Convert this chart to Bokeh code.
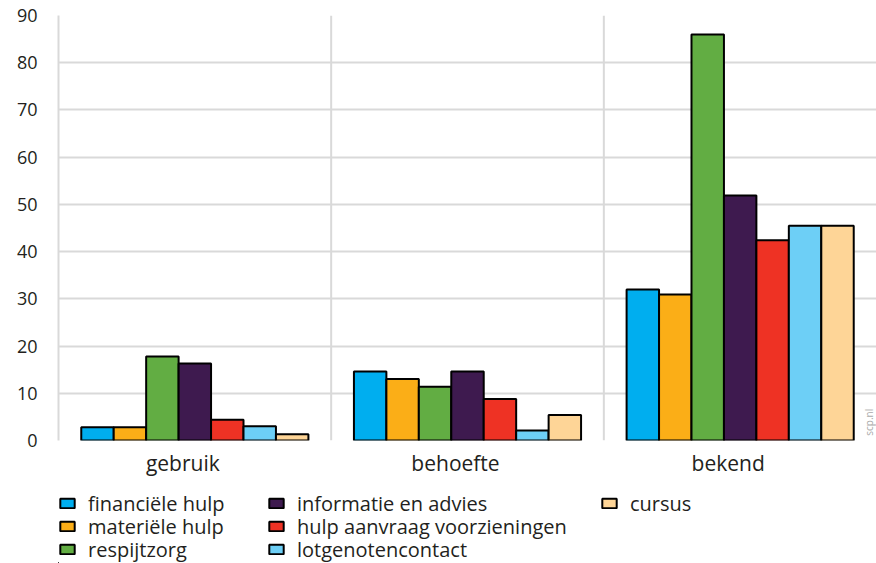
import math
from bokeh.plotting import figure
from bokeh.layouts import column
from bokeh.models import (ColumnDataSource, Range1d, FixedTicker, Span,
                          Legend, LegendItem, Label, LinearAxis)
from bokeh.transform import dodge
from bokeh.embed import file_html
from bokeh.resources import INLINE

categories = ["gebruik", "behoefte", "bekend"]
series_names = ["financiële hulp", "materiële hulp", "respijtzorg", "informatie en advies",
                "hulp aanvraag voorzieningen", "lotgenotencontact", "cursus"]
financiele_hulp = [2.8, 14.6, 32.0]
materiele_hulp = [2.8, 13.0, 30.9]
respijtzorg = [17.8, 11.4, 86.0]
informatie_advies = [16.3, 14.6, 51.9]
hulp_aanvraag = [4.4, 8.8, 42.4]
lotgenotencontact = [3.0, 2.1, 45.5]
cursus = [1.3, 5.4, 45.5]
colors = ["#00AEEF", "#FBAE17", "#62AD43", "#3E1A4F", "#EE3224", "#6DCFF6", "#FED597"]
y_ticks = [0, 10, 20, 30, 40, 50, 60, 70, 80, 90]

series_values = [financiele_hulp, materiele_hulp, respijtzorg, informatie_advies,
                 hulp_aanvraag, lotgenotencontact, cursus]
keys = ["s%d" % i for i in range(len(series_names))]
ncat = len(categories)
cat_pos = [i + 0.5 for i in range(ncat)]   # category centres on the numeric x scale
data = {"cat": categories, "pos": cat_pos}
for k, v in zip(keys, series_values):
    data[k] = v
src = ColumnDataSource(data)

FONT = "Open Sans"
TXT = "#231F20"
GRID = "#D9D9D9"

p = figure(x_range=Range1d(0, ncat), y_range=Range1d(0, 90),
           width=876, height=483, output_backend="svg", toolbar_location=None,
           min_border_left=58, min_border_right=0, min_border_top=15, min_border_bottom=43)
p.outline_line_color = None

bw = 0.119
for i, k in enumerate(keys):
    p.vbar(x=dodge("pos", (i - 3) * bw), top=k, width=bw, source=src,
           fill_color=colors[i], line_color="black", line_width=2)

# grid
p.xgrid.grid_line_color = None
p.ygrid.ticker = FixedTicker(ticks=y_ticks[:-1])
p.ygrid.grid_line_color = GRID
p.ygrid.grid_line_width = 2
for loc in range(1, ncat):
    p.add_layout(Span(location=loc, dimension="height", line_color=GRID, line_width=2,
                      level="underlay"))

# y axis
p.yaxis.ticker = FixedTicker(ticks=y_ticks)
p.yaxis.axis_line_color = GRID
p.yaxis.axis_line_width = 2
p.yaxis.major_tick_line_color = None
p.yaxis.minor_tick_line_color = None
p.yaxis.major_label_text_font = FONT
p.yaxis.major_label_text_font_size = "18px"
p.yaxis.major_label_text_color = TXT
p.yaxis.major_label_standoff = 15

# x axis: category labels sit slightly left of the group centres in the reference
p.xaxis.visible = False
shift = 0.044
p.extra_x_ranges = {"lab": Range1d(shift, ncat + shift)}
xa = LinearAxis(x_range_name="lab", ticker=FixedTicker(ticks=cat_pos),
                major_label_overrides={pos: c for pos, c in zip(cat_pos, categories)})
xa.axis_line_color = None
xa.major_tick_line_color = None
xa.minor_tick_line_color = None
xa.major_label_text_font = FONT
xa.major_label_text_font_size = "21px"
xa.major_label_text_color = TXT
xa.major_label_standoff = 2
p.add_layout(xa, "below")

p.add_layout(Label(x=ncat, y=1, text="scp.nl", angle=math.pi / 2, text_font=FONT,
                   text_font_size="10px", text_color="#AAAAAA", text_baseline="bottom",
                   x_offset=-1))

# legend figure (frame aligned with main frame: left edge at x=58)
LH = 80
lg = figure(width=876, height=LH, output_backend="svg", toolbar_location=None,
            x_range=Range1d(0, 1), y_range=Range1d(0, 1),
            min_border_left=58, min_border_right=0, min_border_top=0, min_border_bottom=0)
lg.axis.visible = False
lg.grid.visible = False
lg.outline_line_color = None
dummy = ColumnDataSource(dict(x=[-10], top=[-10]))
leg_r = [lg.vbar(x="x", top="top", width=0.1, source=dummy, fill_color=c,
                 line_color="black", line_width=2) for c in colors]

ROWH = 28
row_centres = [20, 43, 66]
col_x = [0, 209, 542]
layout_pos = [(0, 0), (0, 1), (0, 2), (1, 0), (1, 1), (1, 2), (2, 0)]
for i, (c, r) in enumerate(layout_pos):
    leg = Legend(items=[LegendItem(label=series_names[i], renderers=[leg_r[i]])],
                 location=(col_x[c], LH - row_centres[r] - ROWH / 2),
                 orientation="vertical", background_fill_alpha=0, border_line_color=None,
                 glyph_width=18, glyph_height=12, label_standoff=12, padding=0, margin=0,
                 spacing=0, label_height=ROWH, label_text_font=FONT,
                 label_text_font_size="20px", label_text_color=TXT)
    lg.add_layout(leg, "center")

open("out.html", "w").write(file_html(column(p, lg, spacing=0), INLINE))
